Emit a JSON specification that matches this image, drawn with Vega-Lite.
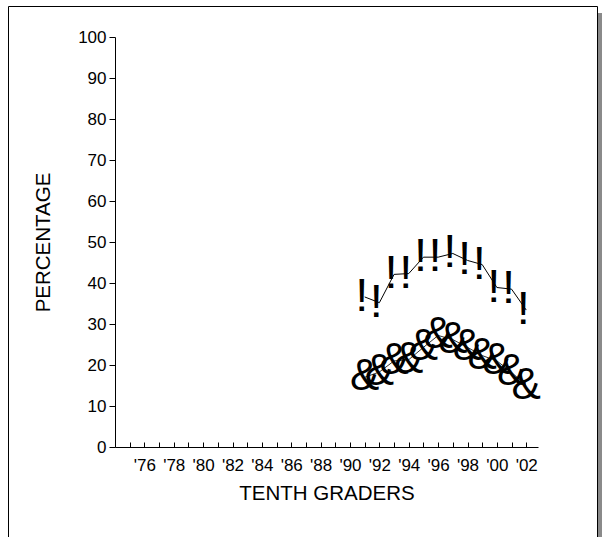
{
  "$schema": "https://vega.github.io/schema/vega-lite/v6.json",
  "padding": {"left": 7, "top": 5, "right": 0, "bottom": 0},
  "background": "white",
  "spacing": 0,
  "config": {
    "font": "Liberation Sans",
    "view": {"stroke": "black", "strokeWidth": 1},
    "concat": {"spacing": 0}
  },
  "hconcat": [
    {
      "width": 589,
      "height": 545,
      "data": {
        "values": [
          {"year": 1991, "series": "A", "value": 36.6},
          {"year": 1992, "series": "A", "value": 35.2},
          {"year": 1993, "series": "A", "value": 42.1},
          {"year": 1994, "series": "A", "value": 42.3},
          {"year": 1995, "series": "A", "value": 46.3},
          {"year": 1996, "series": "A", "value": 46.3},
          {"year": 1997, "series": "A", "value": 47.2},
          {"year": 1998, "series": "A", "value": 45.5},
          {"year": 1999, "series": "A", "value": 44.5},
          {"year": 2000, "series": "A", "value": 38.9},
          {"year": 2001, "series": "A", "value": 38.5},
          {"year": 2002, "series": "A", "value": 33.4},
          {"year": 1991, "series": "B", "value": 17.0},
          {"year": 1992, "series": "B", "value": 18.3},
          {"year": 1993, "series": "B", "value": 21.0},
          {"year": 1994, "series": "B", "value": 21.3},
          {"year": 1995, "series": "B", "value": 24.3},
          {"year": 1996, "series": "B", "value": 27.2},
          {"year": 1997, "series": "B", "value": 26.2},
          {"year": 1998, "series": "B", "value": 24.3},
          {"year": 1999, "series": "B", "value": 22.3},
          {"year": 2000, "series": "B", "value": 21.0},
          {"year": 2001, "series": "B", "value": 18.2},
          {"year": 2002, "series": "B", "value": 15.0}
        ]
      },
      "encoding": {
        "x": {
          "field": "year",
          "type": "quantitative",
          "scale": {"domain": [1974, 2002.8], "range": [107, 530], "nice": false, "zero": false},
          "axis": {
            "orient": "bottom",
            "offset": -104,
            "values": [1975,1976,1977,1978,1979,1980,1981,1982,1983,1984,1985,1986,1987,1988,1989,1990,1991,1992,1993,1994,1995,1996,1997,1998,1999,2000,2001,2002],
            "labelExpr": "datum.value % 2 == 0 ? \"'\" + substring(toString(datum.value), 2, 4) : ''",
            "tickSize": -5,
            "labelPadding": 15,
            "labelFontSize": 17,
            "labelColor": "black",
            "labelFlush": false,
            "labelOverlap": false,
            "tickColor": "black",
            "domainColor": "black",
            "grid": false,
            "title": "TENTH GRADERS",
            "titleFontSize": 20.5,
            "titleFontWeight": "normal",
            "titleColor": "black",
            "titlePadding": 10
          }
        },
        "y": {
          "field": "value",
          "type": "quantitative",
          "scale": {"domain": [0, 100], "range": [441, 31], "nice": false, "zero": true},
          "axis": {
            "orient": "left",
            "offset": -107,
            "values": [0,10,20,30,40,50,60,70,80,90,100],
            "tickSize": 6,
            "labelPadding": 3,
            "labelFontSize": 17,
            "labelColor": "black",
            "labelFlush": false,
            "labelOverlap": false,
            "tickColor": "black",
            "domainColor": "black",
            "grid": false,
            "title": "PERCENTAGE",
            "titleFontSize": 20.5,
            "titleFontWeight": "normal",
            "titleColor": "black",
            "titlePadding": 24
          }
        }
      },
      "layer": [
        {
          "transform": [{"filter": "datum.series == 'A'"}],
          "mark": {"type": "line", "color": "black", "strokeWidth": 1}
        },
        {
          "transform": [{"filter": "datum.series == 'A'"}],
          "mark": {"type": "text", "text": "!", "font": "Liberation Sans", "fontSize": 47, "dx": -3, "baseline": "middle", "align": "center", "color": "black"}
        },
        {
          "transform": [{"filter": "datum.series == 'B'"}],
          "mark": {"type": "line", "color": "black", "strokeWidth": 0.8}
        },
        {
          "transform": [{"filter": "datum.series == 'B'"}],
          "mark": {"type": "text", "text": "&", "font": "Liberation Sans", "fontSize": 44, "baseline": "middle", "align": "center", "color": "black"}
        }
      ]
    },
    {
      "spacing": 0,
      "vconcat": [
        {
          "width": 4,
          "height": 7,
          "data": {"values": []},
          "mark": "point",
          "view": {"stroke": null}
        },
        {
          "width": 4,
          "height": 540,
          "data": {"values": []},
          "mark": "point",
          "view": {"stroke": null, "fill": "#8a8a8a"}
        }
      ]
    }
  ]
}
